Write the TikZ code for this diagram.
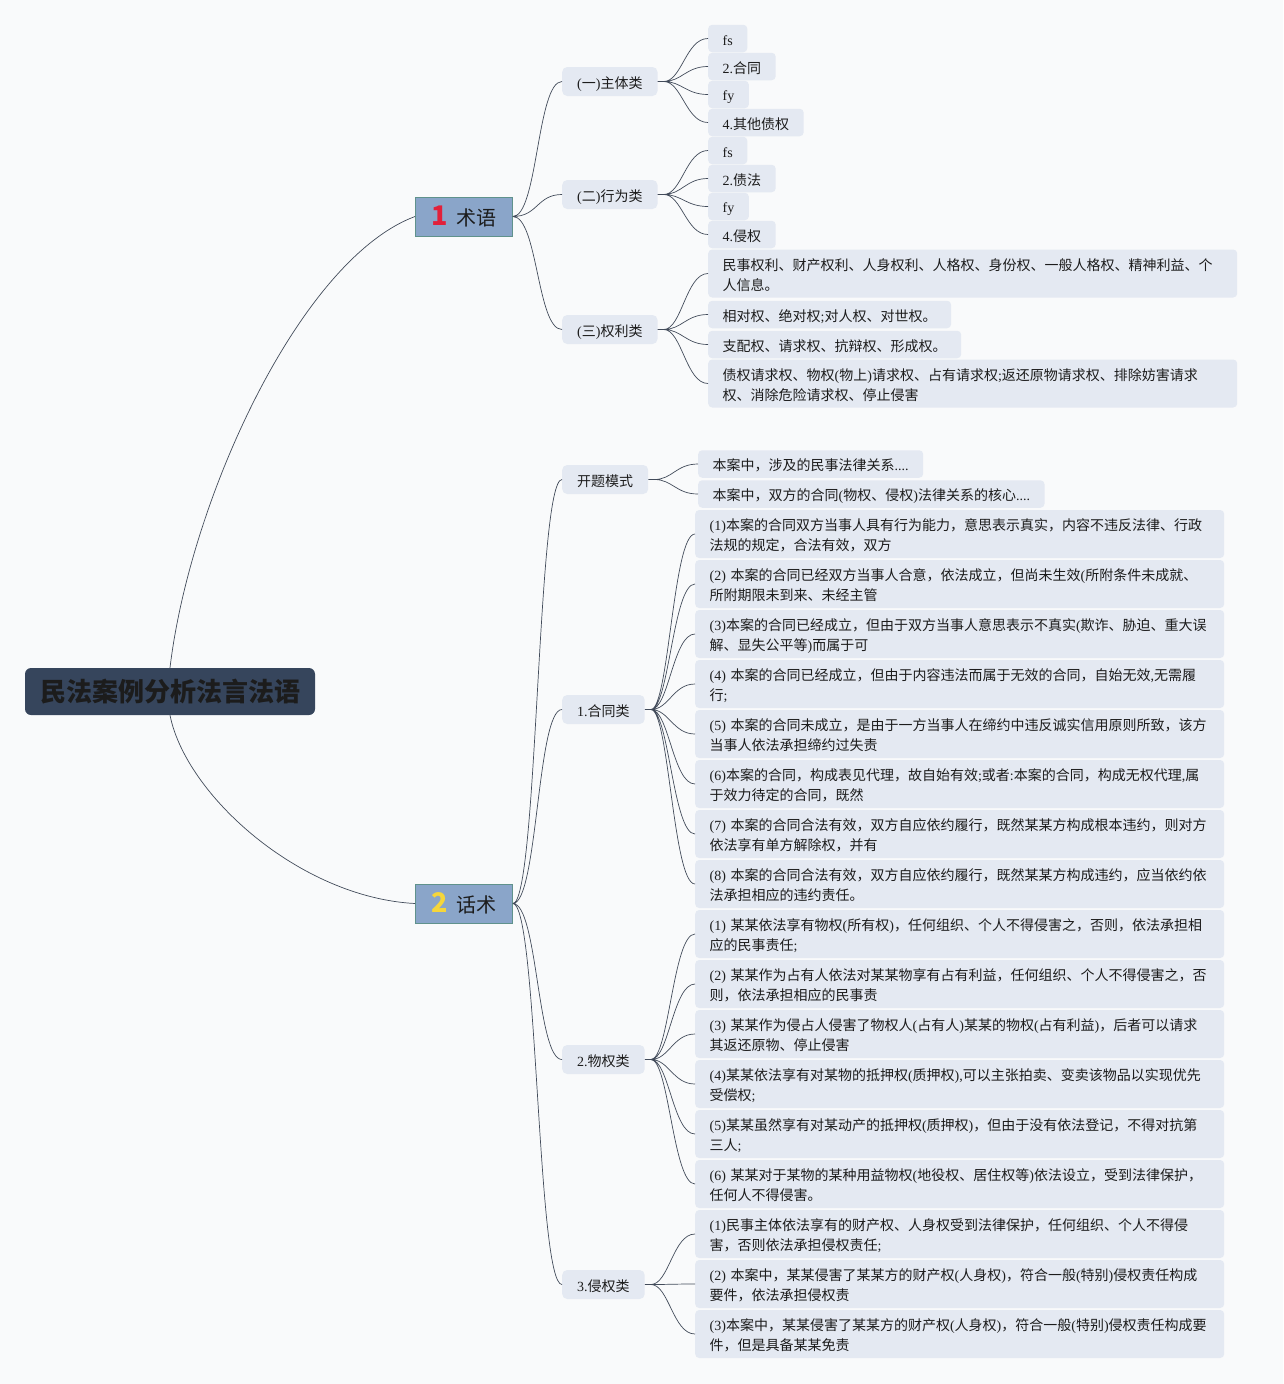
\documentclass[tikz,border=0pt]{standalone}
\usepackage{fontspec}
\setmainfont{Liberation Serif}
\newfontfamily\cjkfont{Noto Sans CJK SC}
\usepackage{tikz}

\definecolor{pagebg}{RGB}{249,250,251}
\definecolor{leafbg}{RGB}{228,233,242}
\definecolor{topicbg}{RGB}{138,165,201}
\definecolor{topicline}{RGB}{96,146,140}
\definecolor{rootbg}{RGB}{54,69,92}
\definecolor{wire}{RGB}{66,75,90}
\definecolor{numred}{RGB}{226,32,58}
\definecolor{numyellow}{RGB}{246,214,58}
\definecolor{ink}{RGB}{28,28,28}

% CJK characters in Noto Sans CJK SC, everything else in Liberation Serif
\newXeTeXintercharclass\cjkclass
\newcount\cjkcode
\cjkcode="3000
\loop
  \XeTeXcharclass\cjkcode=\cjkclass
  \advance\cjkcode by 1
\ifnum\cjkcode<"3040 \repeat
\cjkcode="4E00
\loop
  \XeTeXcharclass\cjkcode=\cjkclass
  \advance\cjkcode by 1
\ifnum\cjkcode<"A000 \repeat
\cjkcode="FF00
\loop
  \XeTeXcharclass\cjkcode=\cjkclass
  \advance\cjkcode by 1
\ifnum\cjkcode<"FFF0 \repeat
\XeTeXinterchartoks 0 \cjkclass = {\cjkfont}
\XeTeXinterchartoks 4095 \cjkclass = {\cjkfont}
\XeTeXinterchartoks \cjkclass 0 = {\rmfamily}
\XeTeXinterchartoks \cjkclass 4095 = {\rmfamily}
\XeTeXinterchartokenstate=1

\begin{document}
\begin{tikzpicture}[x=1pt, y=-1pt,
  every node/.style={text=ink},
  root/.style={fill=rootbg, rounded corners=6pt, minimum height=47pt, inner xsep=15pt, inner ysep=0pt, font=\fontsize{26}{30}\selectfont\bfseries},
  topic/.style={fill=topicbg, draw=topicline, line width=0.8pt, anchor=west, minimum width=97pt, minimum height=39pt, inner sep=0pt, font=\fontsize{20}{24}\selectfont},
  sub/.style={fill=leafbg, rounded corners=5pt, anchor=west, inner xsep=15pt, inner ysep=0pt, minimum height=29pt, font=\fontsize{14}{20}\selectfont,
    execute at begin node={\rule{0pt}{16pt}}, execute at end node={\rule[-3pt]{0pt}{0pt}}},
  leaf/.style={sub, rounded corners=4pt, inner xsep=14.5pt, minimum height=27.5pt},
  long/.style={leaf, text width=500pt, align=left, minimum height=48pt},
  link/.style={to path={.. controls +(25,0) and +(-25,0) .. (\tikztotarget)}},
  twig/.style={to path={-- ++(6,0) .. controls +(18,0) and +(-22,0) .. (\tikztotarget)}},
  wires/.style={draw=wire, line width=0.7pt}]
  \fill[pagebg] (0,0) rectangle (1283,1384);
  \useasboundingbox (0,0) rectangle (1283,1384);

  \node[root] (root) at (170,691.5) {民法案例分析法言法语};
  \node[topic] (t1) at (415,216.5) {{\cjkfont\bfseries\fontsize{27}{27}\selectfont\color{numred}1}\hspace{9pt}术语};
  \node[topic] (t2) at (415,903.5) {{\cjkfont\bfseries\fontsize{27}{27}\selectfont\color{numyellow}2}\hspace{9pt}话术};

  \node[sub] (s11) at (562,81.5) {(一)主体类};
  \node[sub] (s12) at (562,194.5) {(二)行为类};
  \node[sub] (s13) at (562,329.5) {(三)权利类};
  \node[sub] (s21) at (562,479.5) {开题模式};
  \node[sub] (s22) at (562,709.5) {1.合同类};
  \node[sub] (s23) at (562,1059.5) {2.物权类};
  \node[sub] (s24) at (562,1284.5) {3.侵权类};

  \node[leaf] (l111) at (708,38.5) {fs};
  \node[leaf] (l112) at (708,66.5) {2.合同};
  \node[leaf] (l113) at (708,94.5) {fy};
  \node[leaf] (l114) at (708,122.5) {4.其他债权};
  \node[leaf] (l121) at (708,150.5) {fs};
  \node[leaf] (l122) at (708,178.5) {2.债法};
  \node[leaf] (l123) at (708,206.5) {fy};
  \node[leaf] (l124) at (708,234.5) {4.侵权};
  \node[long] (l131) at (708,273.5) {民事权利、财产权利、人身权利、人格权、身份权、一般人格权、精神利益、个\\人信息。};
  \node[leaf] (l132) at (708,314.5) {相对权、绝对权;对人权、对世权。};
  \node[leaf] (l133) at (708,344.5) {支配权、请求权、抗辩权、形成权。};
  \node[long] (l134) at (708,383.5) {债权请求权、物权(物上)请求权、占有请求权;返还原物请求权、排除妨害请求\\权、消除危险请求权、停止侵害};

  \node[leaf] (l211) at (698,464) {本案中，涉及的民事法律关系....};
  \node[leaf] (l212) at (698,494) {本案中，双方的合同(物权、侵权)法律关系的核心....};

  \node[long] (c1) at (695,534) {(1)本案的合同双方当事人具有行为能力，意思表示真实，内容不违反法律、行政\\法规的规定，合法有效，双方};
  \node[long] (c2) at (695,584) {(2) 本案的合同已经双方当事人合意，依法成立，但尚未生效(所附条件未成就、\\所附期限未到来、未经主管};
  \node[long] (c3) at (695,634) {(3)本案的合同已经成立，但由于双方当事人意思表示不真实(欺诈、胁迫、重大误\\解、显失公平等)而属于可};
  \node[long] (c4) at (695,684) {(4) 本案的合同已经成立，但由于内容违法而属于无效的合同，自始无效,无需履\\行;};
  \node[long] (c5) at (695,734) {(5) 本案的合同未成立，是由于一方当事人在缔约中违反诚实信用原则所致，该方\\当事人依法承担缔约过失责};
  \node[long] (c6) at (695,784) {(6)本案的合同，构成表见代理，故自始有效;或者:本案的合同，构成无权代理,属\\于效力待定的合同，既然};
  \node[long] (c7) at (695,834) {(7) 本案的合同合法有效，双方自应依约履行，既然某某方构成根本违约，则对方\\依法享有单方解除权，并有};
  \node[long] (c8) at (695,884) {(8) 本案的合同合法有效，双方自应依约履行，既然某某方构成违约，应当依约依\\法承担相应的违约责任。};

  \node[long] (p1) at (695,934) {(1) 某某依法享有物权(所有权)，任何组织、个人不得侵害之，否则，依法承担相\\应的民事责任;};
  \node[long] (p2) at (695,984) {(2) 某某作为占有人依法对某某物享有占有利益，任何组织、个人不得侵害之，否\\则，依法承担相应的民事责};
  \node[long] (p3) at (695,1034) {(3) 某某作为侵占人侵害了物权人(占有人)某某的物权(占有利益)，后者可以请求\\其返还原物、停止侵害};
  \node[long] (p4) at (695,1084) {(4)某某依法享有对某物的抵押权(质押权),可以主张拍卖、变卖该物品以实现优先\\受偿权;};
  \node[long] (p5) at (695,1134) {(5)某某虽然享有对某动产的抵押权(质押权)，但由于没有依法登记，不得对抗第\\三人;};
  \node[long] (p6) at (695,1184) {(6) 某某对于某物的某种用益物权(地役权、居住权等)依法设立，受到法律保护，\\任何人不得侵害。};

  \node[long] (q1) at (695,1234) {(1)民事主体依法享有的财产权、人身权受到法律保护，任何组织、个人不得侵\\害，否则依法承担侵权责任;};
  \node[long] (q2) at (695,1284) {(2) 本案中，某某侵害了某某方的财产权(人身权)，符合一般(特别)侵权责任构成\\要件，依法承担侵权责};
  \node[long] (q3) at (695,1334) {(3)本案中，某某侵害了某某方的财产权(人身权)，符合一般(特别)侵权责任构成要\\件，但是具备某某免责};

  \draw[wires] (root.north) .. controls +(20,-168) and +(-115,43) .. (t1.west);
  \draw[wires] (root.south) .. controls +(16,80) and +(-115,-6) .. (t2.west);
  \draw[wires] (t1.east) to[link] (s11.west) (t1.east) to[link] (s12.west) (t1.east) to[link] (s13.west);
  \draw[wires] (t2.east) to[link] (s21.west) (t2.east) to[link] (s22.west) (t2.east) to[link] (s23.west) (t2.east) to[link] (s24.west);
  \draw[wires] (s11.east) to[twig] (l111.west) (s11.east) to[twig] (l112.west) (s11.east) to[twig] (l113.west) (s11.east) to[twig] (l114.west);
  \draw[wires] (s12.east) to[twig] (l121.west) (s12.east) to[twig] (l122.west) (s12.east) to[twig] (l123.west) (s12.east) to[twig] (l124.west);
  \draw[wires] (s13.east) to[twig] (l131.west) (s13.east) to[twig] (l132.west) (s13.east) to[twig] (l133.west) (s13.east) to[twig] (l134.west);
  \draw[wires] (s21.east) to[twig] (l211.west) (s21.east) to[twig] (l212.west);
  \draw[wires] (s22.east) to[twig] (c1.west) (s22.east) to[twig] (c2.west) (s22.east) to[twig] (c3.west) (s22.east) to[twig] (c4.west)
               (s22.east) to[twig] (c5.west) (s22.east) to[twig] (c6.west) (s22.east) to[twig] (c7.west) (s22.east) to[twig] (c8.west);
  \draw[wires] (s23.east) to[twig] (p1.west) (s23.east) to[twig] (p2.west) (s23.east) to[twig] (p3.west)
               (s23.east) to[twig] (p4.west) (s23.east) to[twig] (p5.west) (s23.east) to[twig] (p6.west);
  \draw[wires] (s24.east) to[twig] (q1.west) (s24.east) to[twig] (q2.west) (s24.east) to[twig] (q3.west);
\end{tikzpicture}
\end{document}
